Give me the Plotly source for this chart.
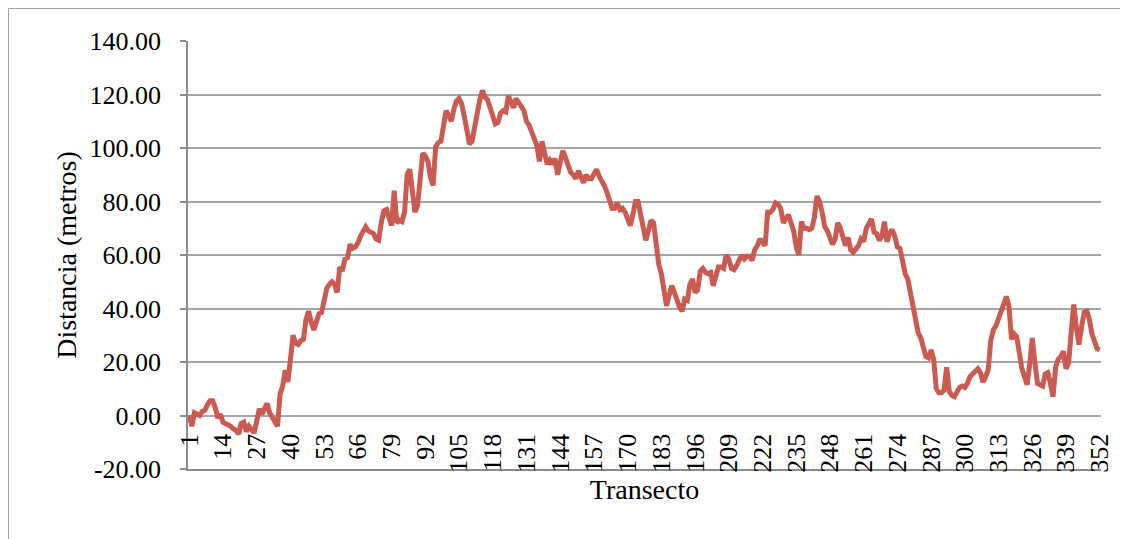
import plotly.graph_objects as go

# Distance per transect (metros) (transects 1..352)
distancia = [
    # 1-40
    0, -4, 1, 0.5, 0, 1.5, 2, 4, 5.5, 5.5,
    3, -1, 0.5, -2.5, -3, -3, -4, -5, -5.5, -7,
    -3, -2.5, -6, -4, -5.5, -6.5, -2, 2.5, 0.5, 2.5,
    4.5, 1, -1, -3, -4, 8, 11, 17, 12.5, 21,
    # 41-79
    30, 27, 26.5, 28, 28.5, 36, 39, 35, 32, 35,
    38, 38.5, 44, 47.5, 49, 50, 49, 46, 55.5, 54,
    58.5, 59, 64, 62.5, 63, 64.5, 67, 69, 70.5, 69,
    68.5, 68, 66, 65.5, 72, 76.5, 77, 74, 71,
    # 80-124
    84, 72, 73, 72.5, 76, 90, 92, 82, 76, 78.5,
    87, 98, 97, 95, 89, 86, 100.5, 102, 102.5, 108,
    114, 112, 110, 114.5, 117.5, 118.5, 116.5, 112, 106, 101.5,
    102.5, 108, 113, 118, 121.5, 119, 118, 115, 112, 109,
    109.5, 113, 114, 113.5, 119.5,
    # 125-163
    117.5, 115, 118.5, 117, 116, 114, 110, 108.5, 106, 104,
    101, 95, 102.5, 98, 94, 95.5, 94, 96, 90, 94.5,
    99, 96.5, 93, 91, 90, 88.5, 91.5, 89, 87, 90,
    88.5, 88.5, 90.5, 92, 89.5, 88, 86, 83.5, 81,
    # 164-206
    77.5, 77.5, 79.5, 77, 77.5, 76, 74, 71, 75, 80,
    80, 75.5, 71, 65.5, 69, 73, 72, 64.5, 56.5, 53,
    48, 41, 45, 48.5, 46, 42.5, 40.5, 39, 43.5, 43,
    49, 51, 46, 47, 54, 55, 53.5, 53, 53.5, 48.5,
    52, 55.5, 55.5,
    # 207-255
    55, 60, 58.5, 55, 54.5, 56, 58, 60, 58.5, 59.5,
    59.5, 58, 62, 63.5, 66, 65, 63.5, 76, 76, 77,
    79.5, 79, 77.5, 72, 74, 75, 72, 69, 63, 60,
    72.5, 70, 70, 69.5, 70, 74, 82, 80, 76, 70.5,
    69, 67, 64, 66, 72, 70, 66, 63.5, 66.5,
    # 256-301
    62, 61, 62, 63.5, 66, 65, 70, 72, 73.5, 68.5,
    68, 65.5, 67, 72.5, 65, 68, 69.5, 67, 63, 62.5,
    57, 53, 51, 45.5, 40, 34, 31, 29, 26, 22,
    21.5, 24.5, 21, 10, 8.5, 8.5, 9.5, 18, 9, 7.5,
    7, 8.5, 10.5, 11, 10.5, 12,
    # 302-352
    14.5, 15.5, 16.5, 17.5, 16, 12.5, 14.5, 17, 28, 32,
    33.5, 37, 39, 41.5, 44.5, 41, 28.5, 30.5, 29.5, 23.5,
    17.5, 14.5, 11.5, 19, 29, 20, 12, 11.5, 11, 15.5,
    16, 12, 7, 18, 21, 22, 24, 17.5, 19.5, 31,
    41.5, 33, 26.5, 33, 38.5, 39, 36, 30.5, 27.5, 25,
    24.5,
]
transecto = list(range(1, len(distancia) + 1))

x_tick_vals = [1, 14, 27, 40, 53, 66, 79, 92, 105, 118, 131, 144, 157, 170,
               183, 196, 209, 222, 235, 248, 261, 274, 287, 300, 313, 326, 339, 352]
x_tick_text = ["1", "14", "27", "40", "53", "66", "79", "92", "105", "118", "131",
               "144", "157", "170", "183", "196", "209", "222", "235", "248", "261",
               "274", "287", "300", "313", "326", "339", "352"]
y_tick_vals = [-20, 0, 20, 40, 60, 80, 100, 120, 140]
y_tick_text = ["-20.00", "0.00", "20.00", "40.00", "60.00", "80.00",
               "100.00", "120.00", "140.00"]

FONT = "Liberation Serif"
FS = 26
FS_TITLE = 28
GRAY = "#A6A6A6"
AXIS = "#8C8C8C"

# plot area in figure pixels (page body adds an 8px offset)
L, T, PW, PH = 180, 33, 913, 428
W, H = 1128, 539

fig = go.Figure()
fig.add_trace(go.Scatter(
    x=transecto, y=distancia, mode="lines",
    line=dict(color="#CB5A51", width=5),
    showlegend=False, hoverinfo="x+y",
))
# invisible trace that carries the category labels axis
fig.add_trace(go.Scatter(
    x=transecto, y=distancia, mode="lines", xaxis="x2",
    line=dict(color="rgba(0,0,0,0)", width=0),
    showlegend=False, hoverinfo="skip",
))

fig.update_layout(
    width=W, height=H,
    margin=dict(l=L, r=W - L - PW, t=T, b=H - T - PH),
    paper_bgcolor="white", plot_bgcolor="white",
    font=dict(family=FONT, size=FS, color="black"),
    xaxis=dict(
        range=[0.5, 352.5], showgrid=False, zeroline=False,
        showline=True, linecolor=AXIS, linewidth=1.5,
        showticklabels=False, ticks="",
        title=dict(text="Transecto", standoff=10, font=dict(family=FONT, size=FS_TITLE)),
    ),
    xaxis2=dict(
        range=[0.5, 352.5], overlaying="x", anchor="free", position=0.097,
        side="bottom", showgrid=False, zeroline=False, showline=False,
        tickmode="array", tickvals=x_tick_vals, ticktext=x_tick_text,
        tickangle=-90, ticks="", tickfont=dict(family=FONT, size=FS),
    ),
    yaxis=dict(
        range=[-20, 140], tickmode="array", tickvals=y_tick_vals, ticktext=y_tick_text,
        showgrid=True, gridcolor=GRAY, gridwidth=1.5, zeroline=False,
        showline=True, linecolor=AXIS, linewidth=1.5,
        ticks="outside", ticklen=6, tickcolor=AXIS, tickwidth=1.5,
        ticklabelstandoff=14,
        title=dict(text="Distancia (metros)", standoff=5, font=dict(family=FONT, size=FS_TITLE)),
    ),
    shapes=[dict(
        type="rect", xref="paper", yref="paper",
        x0=(0.5 - L) / PW, x1=(W + 20 - L) / PW,
        y0=(T + PH - (H + 20)) / PH, y1=(T + PH - 0.5) / PH,
        line=dict(color="#A0A0A0", width=1), fillcolor="rgba(0,0,0,0)", layer="below",
    )],
)

fig.write_html("out.html")
